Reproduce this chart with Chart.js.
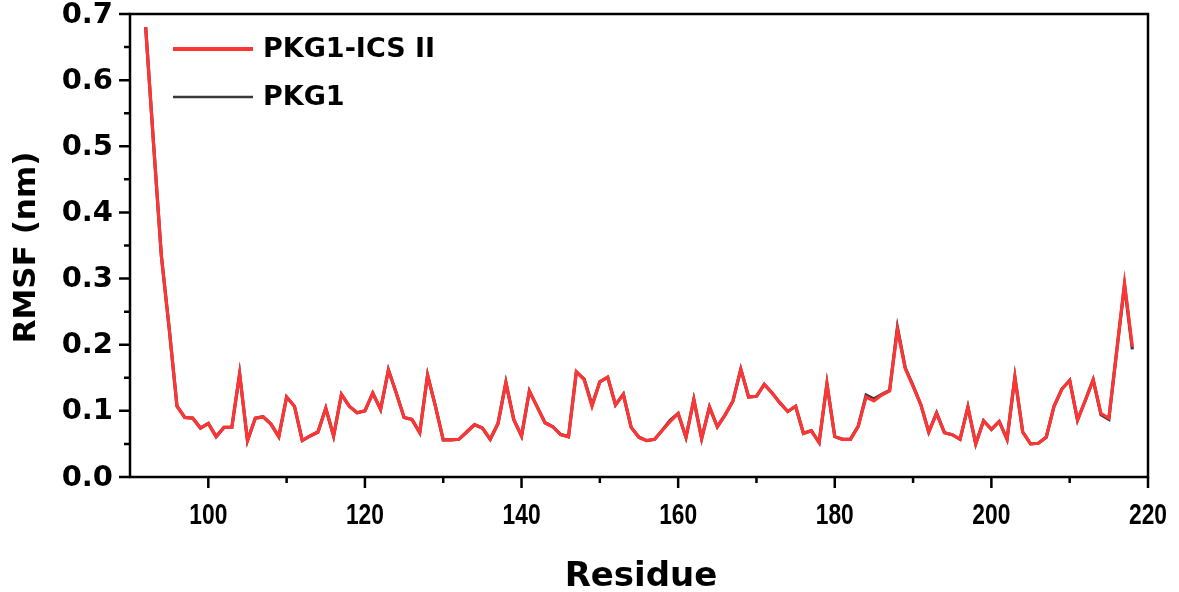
<!DOCTYPE html>
<html>
<head>
<meta charset="utf-8">
<script src="https://cdn.jsdelivr.net/npm/chart.js@4/dist/chart.umd.min.js"></script>
<style>
html,body{margin:0;padding:0;background:#fff;}
#wrap{width:1179px;height:592px;}
</style>
</head>
<body>
<div id="wrap"><canvas id="c" width="1179" height="592"></canvas></div>
<script>
const residues = [92,93,94,95,96,97,98,99,100,101,102,103,104,105,106,107,108,109,110,111,112,113,114,115,116,117,118,119,120,121,122,123,124,125,126,127,128,129,130,131,132,133,134,135,136,137,138,139,140,141,142,143,144,145,146,147,148,149,150,151,152,153,154,155,156,157,158,159,160,161,162,163,164,165,166,167,168,169,170,171,172,173,174,175,176,177,178,179,180,181,182,183,184,185,186,187,188,189,190,191,192,193,194,195,196,197,198,199,200,201,202,203,204,205,206,207,208,209,210,211,212,213,214,215,216,217,218];

const rmsfICS = [0.680,0.505,0.335,0.225,0.107,0.090,0.089,0.074,0.081,0.061,0.075,0.075,0.156,0.055,0.089,0.091,0.080,0.061,0.121,0.107,0.055,0.062,0.068,0.104,0.062,0.125,0.107,0.097,0.100,0.127,0.102,0.162,0.127,0.090,0.087,0.067,0.154,0.107,0.056,0.056,0.057,0.068,0.079,0.074,0.057,0.081,0.143,0.087,0.062,0.130,0.106,0.082,0.076,0.064,0.061,0.159,0.147,0.107,0.144,0.151,0.109,0.125,0.075,0.060,0.055,0.057,0.071,0.084,0.096,0.060,0.117,0.058,0.106,0.076,0.094,0.115,0.163,0.121,0.122,0.140,0.127,0.112,0.099,0.107,0.066,0.070,0.052,0.141,0.061,0.057,0.057,0.077,0.121,0.115,0.124,0.130,0.223,0.164,0.137,0.109,0.068,0.096,0.067,0.064,0.057,0.106,0.050,0.085,0.072,0.084,0.057,0.151,0.068,0.050,0.051,0.060,0.107,0.133,0.146,0.086,0.116,0.147,0.096,0.089,0.190,0.293,0.197];

const rmsfPKG1 = [0.680,0.505,0.335,0.225,0.107,0.090,0.089,0.074,0.081,0.061,0.075,0.075,0.156,0.055,0.089,0.091,0.080,0.061,0.121,0.107,0.055,0.062,0.068,0.104,0.062,0.125,0.107,0.097,0.100,0.127,0.102,0.162,0.127,0.090,0.087,0.067,0.154,0.107,0.056,0.056,0.057,0.068,0.079,0.074,0.057,0.081,0.143,0.087,0.062,0.130,0.106,0.082,0.076,0.064,0.061,0.159,0.148,0.109,0.144,0.151,0.109,0.125,0.075,0.060,0.055,0.057,0.071,0.086,0.096,0.060,0.117,0.058,0.106,0.076,0.094,0.115,0.163,0.121,0.122,0.140,0.127,0.112,0.099,0.107,0.066,0.070,0.052,0.141,0.061,0.057,0.057,0.077,0.124,0.118,0.125,0.131,0.226,0.165,0.138,0.109,0.068,0.097,0.067,0.064,0.057,0.106,0.050,0.085,0.072,0.084,0.057,0.151,0.068,0.050,0.051,0.060,0.107,0.133,0.146,0.086,0.116,0.147,0.094,0.087,0.190,0.290,0.193];

const xMajorTicks = [100,120,140,160,180,200,220];
const xMinorTicks = [110,130,150,170,190,210];
const yMajorTicks = [0.0,0.1,0.2,0.3,0.4,0.5,0.6,0.7];
const yMinorTicks = [0.05,0.15,0.25,0.35,0.45,0.55,0.65];
const seriesNames = ['PKG1-ICS II','PKG1'];
const xTitle = 'Residue';
const yTitle = 'RMSF (nm)';

const toPts = (vals) => residues.map((r,i)=>({x:r,y:vals[i]}));

const deco = {
  id:'deco',
  afterDraw(chart){
    const ctx = chart.ctx, a = chart.chartArea;
    const xs = chart.scales.x, ys = chart.scales.y;
    ctx.save();
    ctx.strokeStyle = '#000';
    ctx.fillStyle = '#000';
    // frame
    ctx.lineWidth = 2.5;
    ctx.strokeRect(a.left, a.top, a.right - a.left, a.bottom - a.top);
    // x ticks
    ctx.lineWidth = 2.5;
    ctx.beginPath();
    xMajorTicks.forEach(v=>{const p=xs.getPixelForValue(v); ctx.moveTo(p,a.bottom); ctx.lineTo(p,a.bottom+11);});
    xMinorTicks.forEach(v=>{const p=xs.getPixelForValue(v); ctx.moveTo(p,a.bottom); ctx.lineTo(p,a.bottom+6);});
    yMajorTicks.forEach(v=>{const p=ys.getPixelForValue(v); ctx.moveTo(a.left,p); ctx.lineTo(a.left-11,p);});
    yMinorTicks.forEach(v=>{const p=ys.getPixelForValue(v); ctx.moveTo(a.left,p); ctx.lineTo(a.left-6,p);});
    ctx.stroke();
    // x tick labels (condensed)
    ctx.font = 'bold 30px "Liberation Sans", Arial, sans-serif';
    ctx.textAlign = 'center';
    ctx.textBaseline = 'middle';
    xMajorTicks.forEach(v=>{
      const p = xs.getPixelForValue(v);
      ctx.save(); ctx.translate(p, 516); ctx.scale(0.76,1); ctx.fillText(String(v),0,0); ctx.restore();
    });
    // y tick labels
    ctx.font = 'bold 29px "DejaVu Sans", sans-serif';
    ctx.textAlign = 'right';
    yMajorTicks.forEach(v=>{
      const p = ys.getPixelForValue(v);
      ctx.fillText(v.toFixed(1), 113, p+1);
    });
    // axis titles
    ctx.font = 'bold 34px "DejaVu Sans", sans-serif';
    ctx.textAlign = 'center';
    ctx.fillText(xTitle, (a.left+a.right)/2 + 2, 577);
    ctx.save();
    ctx.translate(27, (a.top+a.bottom)/2 + 2);
    ctx.rotate(-Math.PI/2);
    ctx.font = 'bold 31px "DejaVu Sans", sans-serif';
    ctx.fillText(yTitle, 0, 0);
    ctx.restore();
    // legend
    const ds = chart.data.datasets;
    const rows = [49, 97];
    ctx.font = 'bold 27px "DejaVu Sans", sans-serif';
    ctx.textAlign = 'left';
    ds.forEach((d,i)=>{
      const y = rows[i];
      ctx.strokeStyle = d.borderColor;
      ctx.lineWidth = i===0 ? 4 : 2.5;
      ctx.beginPath(); ctx.moveTo(173,y); ctx.lineTo(253,y); ctx.stroke();
      ctx.fillStyle = '#000';
      ctx.fillText(d.label, 263, y+1);
    });
    ctx.restore();
  }
};

new Chart(document.getElementById('c'), {
  type:'line',
  data:{
    datasets:[
      {label:seriesNames[0], data:toPts(rmsfICS), borderColor:'#ff3535', borderWidth:3.2, pointRadius:0, tension:0, fill:false},
      {label:seriesNames[1], data:toPts(rmsfPKG1), borderColor:'#3a3a3a', borderWidth:3.2, pointRadius:0, tension:0, fill:false}
    ]
  },
  options:{
    responsive:false,
    animation:false,
    devicePixelRatio:1,
    layout:{padding:{top:14,right:31,left:0,bottom:0}},
    plugins:{legend:{display:false}, tooltip:{enabled:false}},
    scales:{
      x:{type:'linear', min:90, max:220,
        ticks:{display:false}, grid:{display:false}, border:{display:false},
        afterFit(s){ s.height = 115; }},
      y:{type:'linear', min:0, max:0.7,
        ticks:{display:false}, grid:{display:false}, border:{display:false},
        afterFit(s){ s.width = 130; }}
    }
  },
  plugins:[deco]
});
</script>
</body>
</html>
